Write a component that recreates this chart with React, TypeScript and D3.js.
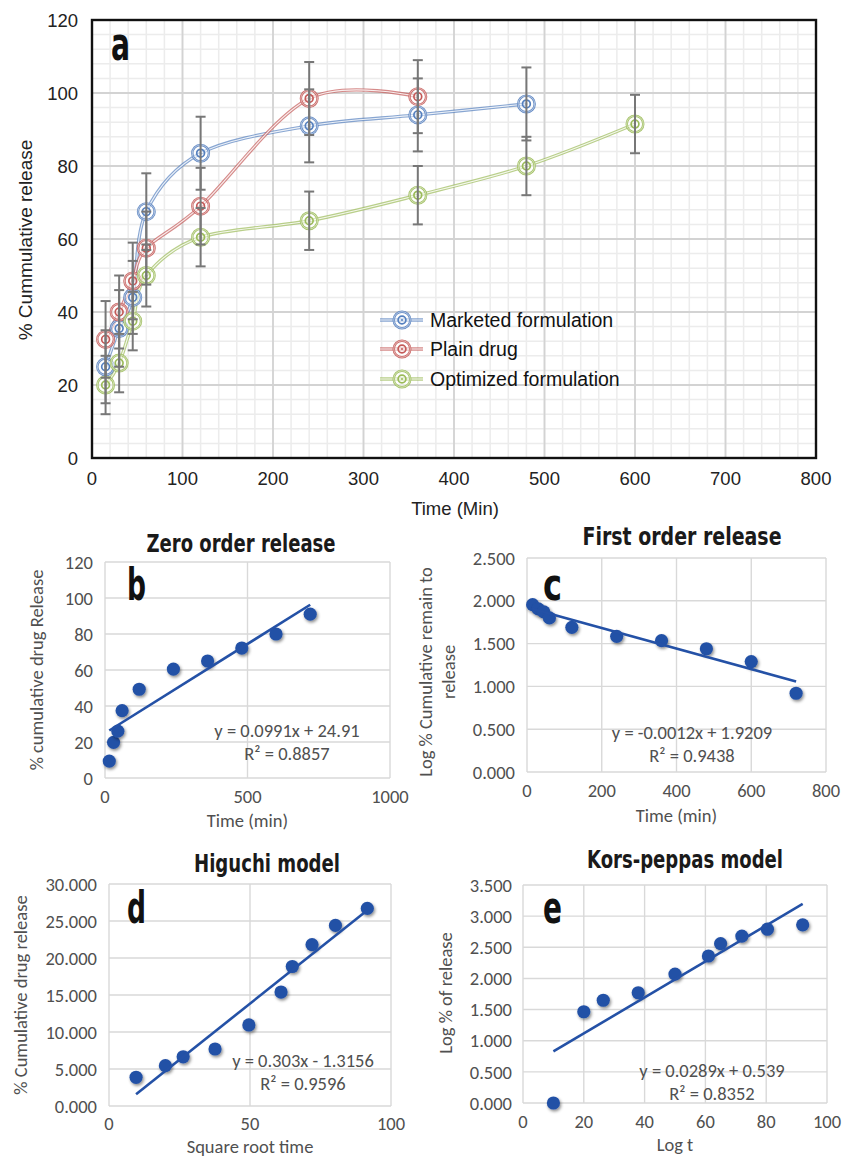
import { useEffect, useRef } from 'react'
import * as d3 from 'd3'

// panel a: dissolution profile
const times = [15, 30, 45, 60, 120, 240, 360, 480, 600]
const marketedRelease = [25, 35.5, 44, 67.5, 83.5, 91, 94, 97]
const marketedSD = [10, 10.5, 10, 10.5, 10, 10, 10, 10]
const plainRelease = [32.5, 40, 48.5, 57.5, 69, 98.5, 99]
const plainSD = [10.5, 10, 10.5, 10, 10.5, 10, 10]
const optimizedRelease = [20, 26, 37.5, 50, 60.5, 65, 72, 80, 91.5]
const optimizedSD = [8, 8, 8, 8.5, 8, 8, 8, 8, 8]
const seriesNames = ['Marketed formulation', 'Plain drug', 'Optimized formulation']
const seriesColors = ['#5580bf', '#c45a58', '#9bbb59']
const aXTicks = [0, 100, 200, 300, 400, 500, 600, 700, 800]
const aYTicks = [0, 20, 40, 60, 80, 100, 120]

// panel b: zero order
const zeroTime = [15, 30, 45, 60, 120, 240, 360, 480, 600, 720]
const zeroRelease = [9.4, 19.8, 26, 37.4, 49.3, 60.5, 65, 72.2, 80, 91]
const zeroFit = [0.0991, 24.91]
const zeroXTicks = [0, 500, 1000]
const zeroYTicks = [0, 20, 40, 60, 80, 100, 120]

// panel c: first order
const firstTime = [15, 30, 45, 60, 120, 240, 360, 480, 600, 720]
const firstLogRemain = [1.955, 1.905, 1.87, 1.8, 1.69, 1.585, 1.535, 1.44, 1.29, 0.92]
const firstFit = [-0.0012, 1.9209]
const firstXTicks = [0, 200, 400, 600, 800]
const firstYTicks = [0, 0.5, 1, 1.5, 2, 2.5]

// panel d: Higuchi
const higuchiX = [9.6, 20, 26.3, 37.6, 49.6, 61, 65, 72, 80.3, 91.6]
const higuchiY = [3.88, 5.45, 6.65, 7.7, 10.95, 15.4, 18.85, 21.8, 24.4, 26.7]
const higuchiFit = [0.303, -1.3156]
const higuchiXTicks = [0, 50, 100]
const higuchiYTicks = [0, 5, 10, 15, 20, 25, 30]

// panel e: Korsmeyer-Peppas
const peppasX = [10, 20, 26.4, 37.9, 50, 61, 65, 72, 80.4, 92]
const peppasY = [0, 1.465, 1.65, 1.77, 2.07, 2.36, 2.56, 2.68, 2.79, 2.86]
const peppasFit = [0.0289, 0.539]
const peppasXTicks = [0, 20, 40, 60, 80, 100]
const peppasYTicks = [0, 0.5, 1, 1.5, 2, 2.5, 3, 3.5]

const fontA = "'Liberation Sans', Arial, sans-serif"
const fontB = "Carlito, Lato, 'Open Sans', sans-serif"
const fontBold = "'Liberation Sans Narrow', 'DejaVu Sans Condensed', sans-serif"
const sizeB = 18.5

export default function App() {
  const svgRef = useRef(null)

  useEffect(() => {
    const svg = d3.select(svgRef.current)
    svg.selectAll('*').remove()

    const defs = svg.append('defs')
    const f = defs.append('filter').attr('id', 'shadow')
      .attr('x', '-50%').attr('y', '-50%').attr('width', '200%').attr('height', '200%')
    f.append('feDropShadow').attr('dx', 1.2).attr('dy', 1.8)
      .attr('stdDeviation', 1.4).attr('flood-color', '#000').attr('flood-opacity', 0.45)

    // ---------- panel a ----------
    const x = d3.scaleLinear().domain([0, 800]).range([92, 816])
    const y = d3.scaleLinear().domain([0, 120]).range([458, 20])
    const a = svg.append('g')

    // minor grid
    a.selectAll('.minx').data(d3.range(0, 801, 20)).join('line')
      .attr('x1', d => x(d)).attr('x2', d => x(d)).attr('y1', y(0)).attr('y2', y(120))
      .attr('stroke', '#ececec').attr('stroke-width', 1.5)
    a.selectAll('.miny').data(d3.range(0, 121, 4)).join('line')
      .attr('x1', x(0)).attr('x2', x(800)).attr('y1', d => y(d)).attr('y2', d => y(d))
      .attr('stroke', '#ececec').attr('stroke-width', 1.5)
    // major grid
    a.selectAll('.majx').data(aXTicks).join('line')
      .attr('x1', d => x(d)).attr('x2', d => x(d)).attr('y1', y(0)).attr('y2', y(120))
      .attr('stroke', '#d3d3d3').attr('stroke-width', 1.8)
    a.selectAll('.majy').data(aYTicks).join('line')
      .attr('x1', x(0)).attr('x2', x(800)).attr('y1', d => y(d)).attr('y2', d => y(d))
      .attr('stroke', '#d3d3d3').attr('stroke-width', 1.8)

    a.append('rect').attr('x', x(0)).attr('y', y(120))
      .attr('width', x(800) - x(0)).attr('height', y(0) - y(120))
      .attr('fill', 'none').attr('stroke', '#111').attr('stroke-width', 2.4)

    // tick labels
    a.selectAll('.xt').data(aXTicks).join('text')
      .attr('x', d => x(d)).attr('y', 485).attr('text-anchor', 'middle')
      .attr('font-family', fontA).attr('font-size', 18.5).attr('fill', '#222')
      .text(d => d)
    a.selectAll('.yt').data(aYTicks).join('text')
      .attr('x', 78).attr('y', d => y(d)).attr('dy', '0.36em').attr('text-anchor', 'end')
      .attr('font-family', fontA).attr('font-size', 18.5).attr('fill', '#222')
      .text(d => d)

    a.append('text').attr('x', 455).attr('y', 515).attr('text-anchor', 'middle')
      .attr('font-family', fontA).attr('font-size', 18.5).attr('fill', '#222')
      .text('Time (Min)')
    a.append('text').attr('transform', 'translate(32,240) rotate(-90)')
      .attr('text-anchor', 'middle')
      .attr('font-family', fontA).attr('font-size', 19).attr('fill', '#222')
      .text('% Cummulative release')

    const series = [
      { vals: marketedRelease, sd: marketedSD },
      { vals: plainRelease, sd: plainSD },
      { vals: optimizedRelease, sd: optimizedSD },
    ]
    const line = d3.line<number>()
      .x((d, i) => x(times[i]))
      .y(d => y(d))
      .curve(d3.curveCardinal.tension(0))

    const drawMarker = (g, cx, cy, color) => {
      g.append('circle').attr('cx', cx).attr('cy', cy).attr('r', 8.3)
        .attr('fill', '#fff').attr('fill-opacity', 0.5)
        .attr('stroke', color).attr('stroke-width', 2.4).attr('stroke-opacity', 0.9)
      g.append('circle').attr('cx', cx).attr('cy', cy).attr('r', 8.3)
        .attr('fill', 'none').attr('stroke', '#fff').attr('stroke-width', 0.7).attr('stroke-opacity', 0.7)
      g.append('circle').attr('cx', cx).attr('cy', cy).attr('r', 3.9)
        .attr('fill', 'none').attr('stroke', color).attr('stroke-width', 1.7)
      g.append('circle').attr('cx', cx).attr('cy', cy).attr('r', 1)
        .attr('fill', color)
    }

    series.forEach((s, k) => {
      a.append('path').attr('d', line(s.vals)).attr('fill', 'none')
        .attr('stroke', seriesColors[k]).attr('stroke-width', 3.4).attr('stroke-opacity', 0.7)
      a.append('path').attr('d', line(s.vals)).attr('fill', 'none')
        .attr('stroke', '#fff').attr('stroke-width', 1.1).attr('stroke-opacity', 0.85)
    })
    series.forEach((s, k) => {
      s.vals.forEach((v, i) => drawMarker(a, x(times[i]), y(v), seriesColors[k]))
    })
    series.forEach((s) => {
      s.vals.forEach((v, i) => {
        const cx = x(times[i])
        const lo = y(v - s.sd[i])
        const hi = y(v + s.sd[i])
        a.append('line').attr('x1', cx).attr('x2', cx).attr('y1', lo).attr('y2', hi)
          .attr('stroke', '#777').attr('stroke-width', 2)
        ;[lo, hi].forEach(yy => {
          a.append('line').attr('x1', cx - 5).attr('x2', cx + 5).attr('y1', yy).attr('y2', yy)
            .attr('stroke', '#777').attr('stroke-width', 2)
        })
      })
    })

    // legend
    const legY = [320, 349, 379]
    seriesNames.forEach((name, k) => {
      const ly = legY[k]
      a.append('line').attr('x1', 380).attr('x2', 423).attr('y1', ly).attr('y2', ly)
        .attr('stroke', seriesColors[k]).attr('stroke-width', 3.4).attr('stroke-opacity', 0.7)
      a.append('line').attr('x1', 380).attr('x2', 423).attr('y1', ly).attr('y2', ly)
        .attr('stroke', '#fff').attr('stroke-width', 1.1).attr('stroke-opacity', 0.85)
      drawMarker(a, 402, ly, seriesColors[k])
      a.append('text').attr('x', 430).attr('y', ly).attr('dy', '0.36em')
        .attr('font-family', fontA).attr('font-size', 19.5).attr('fill', '#111')
        .text(name)
    })

    a.append('text').attr('x', 111).attr('y', 60)
      .attr('font-family', fontBold).attr('font-weight', 'bold').attr('font-size', 46)
      .attr('textLength', 19).attr('lengthAdjust', 'spacingAndGlyphs').attr('fill', '#111')
      .text('a')

    // ---------- panels b-e ----------
    const drawScatter = (cfg) => {
      const { box, xDomain, xTicks, yDomain, yTicks, fmt, xs, ys, fit } = cfg
      const sx = d3.scaleLinear().domain(xDomain).range([box.l, box.r])
      const sy = d3.scaleLinear().domain(yDomain).range([box.b, box.t])
      const g = svg.append('g')

      g.selectAll('.gx').data(xTicks).join('line')
        .attr('x1', d => sx(d)).attr('x2', d => sx(d)).attr('y1', box.t).attr('y2', box.b)
        .attr('stroke', '#d9d9d9').attr('stroke-width', 1.4)
      g.selectAll('.gy').data(yTicks).join('line')
        .attr('x1', box.l).attr('x2', box.r).attr('y1', d => sy(d)).attr('y2', d => sy(d))
        .attr('stroke', '#d9d9d9').attr('stroke-width', 1.4)

      g.selectAll('.tx').data(xTicks).join('text')
        .attr('x', d => sx(d)).attr('y', cfg.xTickY).attr('text-anchor', 'middle')
        .attr('font-family', fontB).attr('font-size', sizeB).attr('fill', '#505050')
        .text(d => d)
      g.selectAll('.ty').data(yTicks).join('text')
        .attr('x', cfg.yTickX).attr('y', d => sy(d)).attr('dy', '0.36em').attr('text-anchor', 'end')
        .attr('font-family', fontB).attr('font-size', sizeB).attr('fill', '#505050')
        .text(d => fmt(d))

      g.selectAll('.pt').data(xs).join('circle')
        .attr('cx', d => sx(d)).attr('cy', (d, i) => sy(ys[i])).attr('r', 6.6)
        .attr('fill', '#2451a6').attr('filter', 'url(#shadow)')

      const [x0, x1] = d3.extent(xs)
      g.append('line')
        .attr('x1', sx(x0)).attr('y1', sy(fit[0] * x0 + fit[1]))
        .attr('x2', sx(x1)).attr('y2', sy(fit[0] * x1 + fit[1]))
        .attr('stroke', '#2451a6').attr('stroke-width', 2.6)

      g.append('text').attr('x', cfg.eqX).attr('y', cfg.eqY).attr('text-anchor', 'middle')
        .attr('font-family', fontB).attr('font-size', sizeB).attr('fill', '#505050')
        .text(cfg.eq)
      g.append('text').attr('x', cfg.eqX).attr('y', cfg.eqY + 23).attr('text-anchor', 'middle')
        .attr('font-family', fontB).attr('font-size', sizeB).attr('fill', '#505050')
        .text(cfg.r2)

      g.append('text').attr('x', cfg.titleX).attr('y', cfg.titleY).attr('text-anchor', 'middle')
        .attr('font-family', fontBold).attr('font-weight', 'bold').attr('font-size', 25)
        .attr('textLength', cfg.titleW).attr('lengthAdjust', 'spacingAndGlyphs').attr('fill', '#1a1a1a')
        .text(cfg.title)

      g.append('text').attr('x', cfg.letterX).attr('y', cfg.letterY)
        .attr('font-family', fontBold).attr('font-weight', 'bold').attr('font-size', 44)
        .attr('textLength', 19).attr('lengthAdjust', 'spacingAndGlyphs').attr('fill', '#111')
        .text(cfg.letter)

      g.append('text').attr('x', (box.l + box.r) / 2).attr('y', cfg.xLabelY).attr('text-anchor', 'middle')
        .attr('font-family', fontB).attr('font-size', sizeB).attr('fill', '#505050')
        .text(cfg.xLabel)
      cfg.yLabel.forEach((t, i) => {
        g.append('text')
          .attr('transform', `translate(${cfg.yLabelX + i * 23},${cfg.yLabelCY}) rotate(-90)`)
          .attr('text-anchor', 'middle')
          .attr('font-family', fontB).attr('font-size', sizeB).attr('fill', '#505050')
          .text(t)
      })
    }

    drawScatter({
      box: { l: 105, r: 390, t: 562, b: 778 },
      xDomain: [0, 1000], xTicks: zeroXTicks, yDomain: [0, 120], yTicks: zeroYTicks,
      fmt: d => d, xs: zeroTime, ys: zeroRelease, fit: zeroFit,
      xTickY: 803, yTickX: 93, eqX: 287, eqY: 737,
      eq: 'y = 0.0991x + 24.91', r2: 'R² = 0.8857',
      title: 'Zero order release', titleX: 241, titleY: 552, titleW: 189,
      letter: 'b', letterX: 127, letterY: 600,
      xLabel: 'Time (min)', xLabelY: 827,
      yLabel: ['% cumulative drug Release'], yLabelX: 43, yLabelCY: 670,
    })
    drawScatter({
      box: { l: 527, r: 826, t: 558, b: 772 },
      xDomain: [0, 800], xTicks: firstXTicks, yDomain: [0, 2.5], yTicks: firstYTicks,
      fmt: d3.format('.3f'), xs: firstTime, ys: firstLogRemain, fit: firstFit,
      xTickY: 797, yTickX: 515, eqX: 692, eqY: 739,
      eq: 'y = -0.0012x + 1.9209', r2: 'R² = 0.9438',
      title: 'First order release', titleX: 682, titleY: 545, titleW: 199,
      letter: 'c', letterX: 543, letterY: 600,
      xLabel: 'Time (min)', xLabelY: 822,
      yLabel: ['Log % Cumulative remain to', 'release'], yLabelX: 432, yLabelCY: 672,
    })
    drawScatter({
      box: { l: 109, r: 391, t: 884, b: 1106 },
      xDomain: [0, 100], xTicks: higuchiXTicks, yDomain: [0, 30], yTicks: higuchiYTicks,
      fmt: d3.format('.3f'), xs: higuchiX, ys: higuchiY, fit: higuchiFit,
      xTickY: 1130, yTickX: 97, eqX: 303, eqY: 1067,
      eq: 'y = 0.303x - 1.3156', r2: 'R² = 0.9596',
      title: 'Higuchi model', titleX: 267, titleY: 872, titleW: 146,
      letter: 'd', letterX: 127, letterY: 923,
      xLabel: 'Square root time', xLabelY: 1153,
      yLabel: ['% Cumulative drug release'], yLabelX: 27, yLabelCY: 995,
    })
    drawScatter({
      box: { l: 523, r: 827, t: 885, b: 1103 },
      xDomain: [0, 100], xTicks: peppasXTicks, yDomain: [0, 3.5], yTicks: peppasYTicks,
      fmt: d3.format('.3f'), xs: peppasX, ys: peppasY, fit: peppasFit,
      xTickY: 1128, yTickX: 512, eqX: 712, eqY: 1077,
      eq: 'y = 0.0289x + 0.539', r2: 'R² = 0.8352',
      title: 'Kors-peppas model', titleX: 685, titleY: 868, titleW: 196,
      letter: 'e', letterX: 543, letterY: 923,
      xLabel: 'Log t', xLabelY: 1151,
      yLabel: ['Log % of release'], yLabelX: 452, yLabelCY: 993,
    })
  }, [])

  return (
    <svg ref={svgRef} width={856} height={1159}
      style={{ position: 'absolute', left: 0, top: 0, background: '#fff' }} />
  )
}
